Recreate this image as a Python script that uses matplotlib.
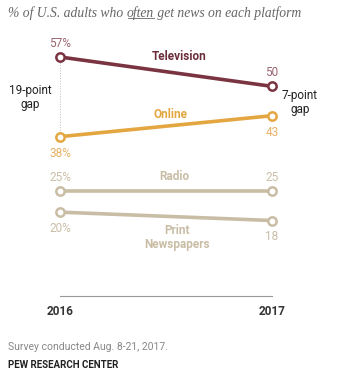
import matplotlib.pyplot as plt
from matplotlib.lines import Line2D

years = [2016, 2017]
platforms = ["Television", "Online", "Radio", "Print\nNewspapers"]
values = [[57, 50], [38, 43], [25, 25], [20, 18]]
line_colors = ["#7a3441", "#e3a640", "#c9bda5", "#c9bda5"]
num_colors = ["#9a6570", "#e6b165", "#c9bda5", "#c9bda5"]
label_colors = ["#6b2f3b", "#e3a640", "#c9bda5", "#c9bda5"]
title_parts = ["% of U.S. adults who ", "often", " get news on each platform"]

plt.rcParams['font.family'] = ['Roboto', 'DejaVu Sans']

fig = plt.figure(figsize=(3.38, 3.86), dpi=100)
ax = fig.add_axes([60 / 338, 90 / 386, 212 / 338, 239 / 386])
ax.set_xlim(2016, 2017)
ax.set_ylim(0, 57)
ax.axis("off")

# gap markers
ax.plot([2016, 2016], [values[0][0], values[1][0]], ls=":", lw=0.7, color="#bbbbbb", zorder=1)
ax.plot([2017, 2017], [values[0][1], values[1][1]], ls=":", lw=0.7, color="#bbbbbb", zorder=1)

for i, name in enumerate(platforms):
    ax.plot(years, values[i], color=line_colors[i], lw=2.6, marker="o", ms=6,
            mfc="white", mew=1.8, clip_on=False, zorder=3)

# value label offsets (points) for 2016 / 2017
offsets = [(10, 10), (-12, -12), (9.5, 9.5), (-12, -11.5)]
for i in range(len(platforms)):
    for j, yr in enumerate(years):
        txt = f"{values[i][j]}%" if j == 0 else f"{values[i][j]}"
        ax.annotate(txt, (yr, values[i][j]), xytext=(0, offsets[i][j]), textcoords="offset points",
                    ha="center", va="center", fontsize=8.5, color=num_colors[i])

# series names
name_pos = [(2016.56, 57.2), (2016.52, 43.4), (2016.54, 28.4), (2016.55, 14.0)]
for i, name in enumerate(platforms):
    ax.text(name_pos[i][0], name_pos[i][1], name, ha="center", va="center",
            fontsize=8.5, fontweight="bold", color=label_colors[i], linespacing=1.15,
            clip_on=False)

ax.text(2016 - 30 / 212, 47.3, "19-point\ngap", ha="center", va="center",
        fontsize=8.5, color="#222222", linespacing=1.05)
ax.text(2017 + 28 / 212, 46.2, "7-point\ngap", ha="center", va="center",
        fontsize=8.5, color="#222222", linespacing=1.05)

# baseline and year labels
ax.plot([2016, 2017], [0, 0], color="#999999", lw=0.8, clip_on=False)
for yr in years:
    ax.annotate(str(yr), (yr, 0), xytext=(0, -11), textcoords="offset points",
                ha="center", va="center", fontsize=8.5, fontweight="bold", color="#333333")

# title with underlined "often", sized to span ~294 px
renderer = fig.canvas.get_renderer()
title_font = "Liberation Serif"
probe = fig.text(0, 0, "".join(title_parts), fontsize=10, style="italic", family=title_font)
fs = 10 * 294 / probe.get_window_extent(renderer).width
probe.remove()
tx = 8 / 338
ty = 1 - 13 / 386
for k, part in enumerate(title_parts):
    t = fig.text(tx, ty, part, fontsize=fs, style="italic", family=title_font,
                 color="#666666", va="center")
    bb = t.get_window_extent(renderer).transformed(fig.transFigure.inverted())
    if k == 1:
        fig.add_artist(Line2D([bb.x0 + 0.003, bb.x1], [bb.y0 + 0.004, bb.y0 + 0.004],
                              transform=fig.transFigure, color="#666666", lw=0.6))
    tx = bb.x1

fig.text(8 / 338, 1 - 347 / 386, "Survey conducted Aug. 8-21, 2017.", fontsize=7.5,
         color="#888888", va="center")
fig.text(8 / 338, 1 - 365 / 386, "PEW RESEARCH CENTER", fontsize=7, fontweight="bold",
         color="#222222", va="center")

fig.savefig("out.png", dpi=100)
